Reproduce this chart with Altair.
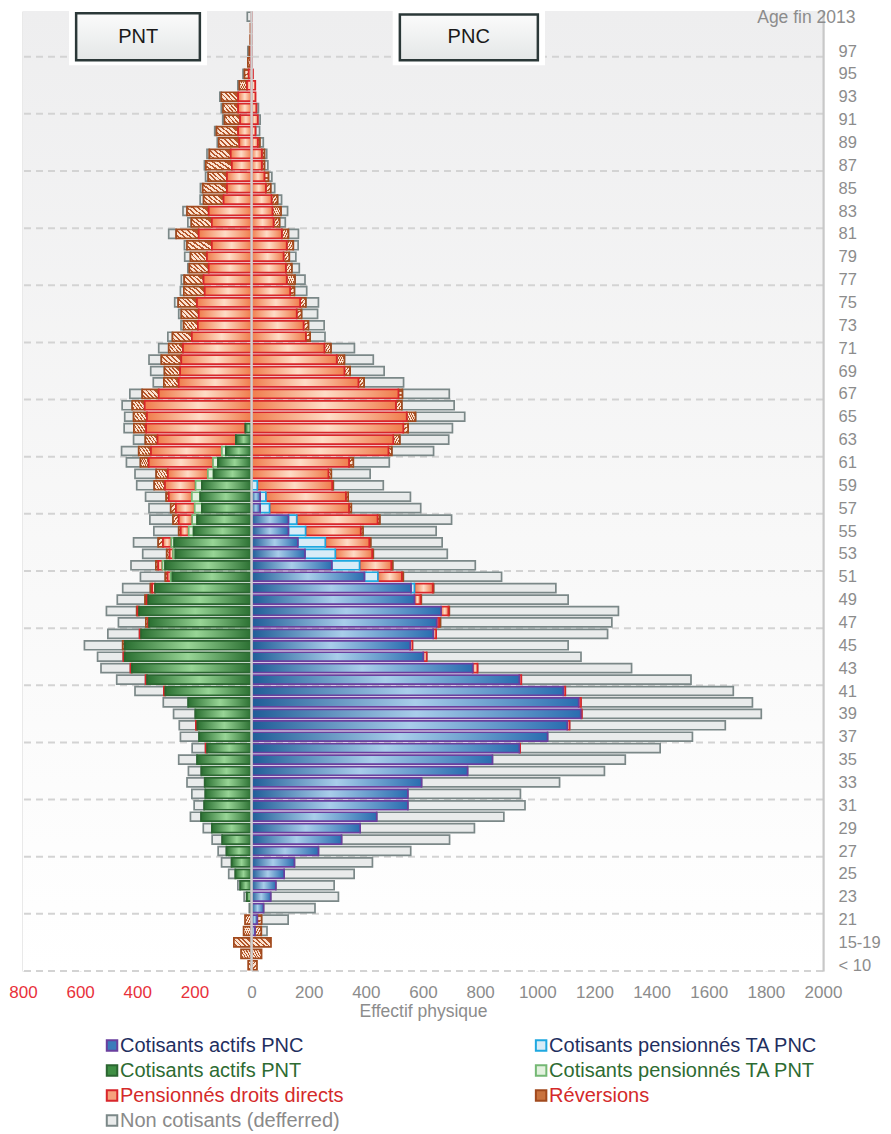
import altair as alt
import pandas as pd

FONT = "Liberation Sans, Arial, sans-serif"

# Row labels, from the oldest (top) to the youngest (bottom)
ages = ["100", "99", "98", "97", "96", "95", "94", "93", "92", "91",
        "90", "89", "88", "87", "86", "85", "84", "83", "82", "81",
        "80", "79", "78", "77", "76", "75", "74", "73", "72", "71",
        "70", "69", "68", "67", "66", "65", "64", "63", "62", "61",
        "60", "59", "58", "57", "56", "55", "54", "53", "52", "51",
        "50", "49", "48", "47", "46", "45", "44", "43", "42", "41",
        "40", "39", "38", "37", "36", "35", "34", "33", "32", "31",
        "30", "29", "28", "27", "26", "25", "24", "23", "22", "21",
        "20", "15-19", "10-14", "< 10"]

# ---- PNT side (left), values top -> bottom ----
cot_actifs_pnt = [0, 0, 0, 0, 0, 0, 0, 0, 0, 0,
                  0, 0, 0, 0, 0, 0, 0, 0, 0, 0,
                  0, 0, 0, 0, 0, 0, 0, 0, 0, 0,
                  0, 0, 0, 0, 0, 0, 22, 55, 90, 118,
                  133, 174, 180, 174, 191, 203, 271, 267, 303, 277,
                  338, 362, 394, 359, 387, 444, 444, 419, 366, 302,
                  222, 197, 190, 184, 156, 191, 176, 164, 162, 166,
                  177, 139, 103, 88, 70, 57, 40, 17, 3, 0,
                  0, 0, 0, 0]
cot_ta_pnt = [0, 0, 0, 0, 0, 0, 0, 0, 0, 0,
              0, 0, 0, 0, 0, 0, 0, 0, 0, 0,
              0, 0, 0, 0, 0, 0, 0, 0, 0, 0,
              0, 0, 0, 0, 0, 0, 0, 0, 14, 17,
              20, 22, 29, 25, 17, 17, 10, 8, 9, 6,
              0, 0, 0, 0, 0, 0, 0, 0, 0, 0,
              0, 0, 0, 0, 0, 0, 0, 0, 0, 0,
              0, 0, 0, 0, 0, 0, 0, 0, 0, 0,
              0, 0, 0, 0]
pens_pnt = [0, 0, 0, 2, 3, 10, 16, 47, 47, 40,
            47, 43, 73, 69, 86, 86, 98, 150, 139, 185,
            139, 156, 150, 168, 164, 191, 185, 188, 209, 240,
            246, 250, 255, 325, 374, 366, 347, 274, 248, 225,
            140, 107, 81, 66, 47, 28, 29, 12, 15, 11,
            10, 5, 5, 3, 5, 0, 5, 5, 5, 5,
            0, 0, 5, 0, 5, 0, 0, 0, 0, 0,
            0, 0, 0, 0, 0, 0, 0, 0, 0, 0,
            0, 0, 0, 0]
rev_pnt = [0, 4, 5, 6, 10, 15, 27, 59, 53, 55,
           76, 72, 75, 91, 66, 85, 70, 76, 72, 79,
           87, 58, 68, 68, 73, 66, 61, 50, 68, 50,
           70, 55, 52, 58, 44, 47, 43, 43, 43, 29,
           41, 38, 9, 18, 20, 7, 17, 10, 8, 8,
           6, 6, 3, 8, 0, 7, 0, 0, 0, 0,
           0, 0, 0, 0, 0, 0, 0, 0, 0, 0,
           0, 0, 0, 0, 0, 0, 0, 0, 0, 23,
           28, 62, 37, 12]
noncot_pnt = [15, 0, 0, 5, 0, 5, 5, 5, 6, 6,
              6, 5, 8, 5, 9, 8, 12, 14, 12, 26,
              9, 20, 5, 10, 12, 12, 9, 9, 16, 35,
              43, 48, 37, 43, 35, 31, 34, 41, 60, 49,
              74, 61, 72, 76, 81, 87, 86, 84, 87, 87,
              97, 97, 106, 96, 111, 134, 90, 103, 101, 101,
              87, 76, 58, 65, 47, 64, 45, 62, 47, 35,
              37, 30, 35, 29, 35, 23, 8, 9, 5, 0,
              0, 0, 0, 0]

# ---- PNC side (right), values top -> bottom ----
cot_actifs_pnc = [0, 0, 0, 0, 0, 0, 0, 0, 0, 0,
                  0, 0, 0, 0, 0, 0, 0, 0, 0, 0,
                  0, 0, 0, 0, 0, 0, 0, 0, 0, 0,
                  0, 0, 0, 0, 0, 0, 0, 0, 0, 0,
                  0, 0, 30, 30, 129, 129, 162, 187, 281, 395,
                  558, 570, 663, 648, 636, 555, 601, 774, 937, 1091,
                  1145, 1152, 1105, 1036, 937, 843, 756, 595, 547, 547,
                  438, 380, 315, 234, 150, 114, 85, 67, 42, 20,
                  12, 0, 0, 0]
cot_ta_pnc = [0, 0, 0, 0, 0, 0, 0, 0, 0, 0,
              0, 0, 0, 0, 0, 0, 0, 0, 0, 0,
              0, 0, 0, 0, 0, 0, 0, 0, 0, 0,
              0, 0, 0, 0, 0, 0, 0, 0, 0, 0,
              0, 20, 20, 33, 29, 60, 96, 106, 97, 47,
              12, 0, 0, 0, 0, 0, 0, 0, 0, 0,
              0, 0, 0, 0, 0, 0, 0, 0, 0, 0,
              0, 0, 0, 0, 0, 0, 0, 0, 0, 0,
              0, 0, 0, 0]
pens_pnc = [2, 2, 2, 2, 2, 5, 13, 14, 17, 22,
            14, 22, 36, 36, 45, 50, 70, 73, 77, 106,
            123, 112, 120, 123, 135, 170, 158, 182, 190, 255,
            298, 325, 374, 514, 505, 543, 531, 496, 479, 341,
            269, 262, 280, 278, 283, 193, 154, 129, 111, 84,
            64, 21, 26, 8, 10, 8, 12, 17, 7, 7,
            8, 4, 8, 0, 3, 0, 0, 0, 0, 0,
            0, 0, 0, 0, 0, 0, 0, 0, 0, 0,
            0, 0, 0, 0]
rev_pnc = [0, 0, 0, 0, 0, 0, 0, 0, 0, 0,
           0, 7, 9, 9, 14, 17, 21, 30, 21, 23,
           23, 20, 21, 29, 15, 20, 17, 17, 15, 23,
           27, 20, 20, 14, 21, 31, 17, 23, 12, 15,
           10, 4, 8, 8, 8, 8, 5, 4, 5, 5,
           3, 3, 3, 5, 0, 0, 0, 0, 0, 0,
           0, 0, 0, 0, 0, 0, 0, 0, 0, 0,
           0, 0, 0, 0, 0, 0, 0, 0, 0, 15,
           22, 68, 35, 19]
noncot_pnc = [0, 0, 0, 0, 0, 0, 0, 0, 7, 8,
              14, 12, 8, 12, 12, 14, 14, 23, 20, 35,
              17, 23, 26, 35, 43, 44, 56, 55, 52, 82,
              101, 119, 138, 164, 183, 172, 155, 171, 146, 126,
              136, 175, 218, 243, 251, 256, 250, 259, 289, 344,
              428, 514, 592, 600, 600, 545, 540, 539, 594, 588,
              600, 628, 545, 507, 490, 465, 479, 483, 394, 410,
              445, 400, 378, 323, 273, 245, 204, 237, 180, 93,
              20, 0, 0, 0]

legend_names = ["Cotisants actifs PNC", "Cotisants pensionnés TA PNC",
                "Cotisants actifs PNT", "Cotisants pensionnés TA PNT",
                "Pensionnés droits directs", "Réversions",
                "Non cotisants (defferred)"]
x_tick_values = [-800, -600, -400, -200, 0, 200, 400, 600, 800,
                 1000, 1200, 1400, 1600, 1800, 2000]

# annotation boxes "PNT" / "PNC" (data coordinates)
box_labels = ["PNT", "PNC"]
box_x_from = [-614, 519]
box_x_to = [-181, 1002]
box_y_from = [79.2, 79.2]
box_y_to = [83.3, 83.2]
box_label_x = [-397, 760]
box_label_y = [81.2, 81.2]

n = len(ages)
for arr in [cot_actifs_pnt, cot_ta_pnt, pens_pnt, rev_pnt, noncot_pnt,
            cot_actifs_pnc, cot_ta_pnc, pens_pnc, rev_pnc, noncot_pnc]:
    assert len(arr) == n
ages_bottom_up = ages[::-1]
row_idx = [n - 1 - i for i in range(n)]

left_groups = [("Cotisants actifs PNT", cot_actifs_pnt),
               ("Cotisants pensionnés TA PNT", cot_ta_pnt),
               ("Pensionnés droits directs", pens_pnt),
               ("Réversions", rev_pnt),
               ("Non cotisants (defferred)", noncot_pnt)]
right_groups = [("Cotisants actifs PNC", cot_actifs_pnc),
                ("Cotisants pensionnés TA PNC", cot_ta_pnc),
                ("Pensionnés droits directs", pens_pnc),
                ("Réversions", rev_pnc),
                ("Non cotisants (defferred)", noncot_pnc)]

HALF = 0.39
recs = []
for groups, sign in [(left_groups, -1), (right_groups, 1)]:
    cum = [0] * n
    for name, vals in groups:
        for i in range(n):
            v = vals[i]
            if v > 0:
                recs.append(dict(series=name, x0=sign * cum[i], x1=sign * (cum[i] + v),
                                 y0=row_idx[i] - HALF, y1=row_idx[i] + HALF))
            cum[i] += v
bars = pd.DataFrame(recs)


def hgrad(c_edge, c_mid, c_edge2=None):
    return {"gradient": "linear", "x1": 0, "y1": 0, "x2": 1, "y2": 0,
            "stops": [{"offset": 0, "color": c_edge},
                      {"offset": 0.5, "color": c_mid},
                      {"offset": 1, "color": c_edge2 or c_edge}]}


def hatch(c1, c2, cycles=5):
    stops = []
    for k in range(cycles):
        a = k / cycles
        b = (k + 0.6) / cycles
        c = (k + 1) / cycles
        stops += [{"offset": a, "color": c1}, {"offset": b, "color": c1},
                  {"offset": b, "color": c2}, {"offset": c, "color": c2}]
    return {"gradient": "linear", "x1": 0, "y1": 1, "x2": 1, "y2": 0.5, "stops": stops}


styles = {
    "Cotisants actifs PNC": (hgrad("#1f5c97", "#a9cdea", "#2a6db0"), "#6a3f9e"),
    "Cotisants pensionnés TA PNC": ("#d8ecf7", "#1fa8e0"),
    "Cotisants actifs PNT": (hgrad("#2a6f31", "#98d596"), "#2b6631"),
    "Cotisants pensionnés TA PNT": ("#e3f2df", "#74b874"),
    "Pensionnés droits directs": (hgrad("#f07c4c", "#fedcc6"), "#d8262b"),
    "Réversions": (hatch("#fbe2cf", "#b4562a"), "#a14a1e"),
    "Non cotisants (defferred)": ("#e9ebeb", "#7b8888"),
}

xs = alt.Scale(domain=[-800, 2000], nice=False, zero=False)
ys = alt.Scale(domain=[-0.5, n - 0.5], nice=False, zero=False)
label_arr = "[" + ",".join("'" + a + "'" for a in ages_bottom_up) + "]"
label_idx = list(range(0, n - 3, 2))

x_axis = alt.Axis(values=x_tick_values, labelExpr="abs(datum.value)", grid=True,
                  gridColor="#d3d3d3", gridWidth=2, domain=False, ticks=False,
                  labelFlush=False, labelOverlap=False,
                  labelColor={"condition": {"test": "datum.value < 0", "value": "#e8313b"},
                              "value": "#8c8c8c"},
                  labelFontSize=17, labelPadding=13, labelFont=FONT,
                  title="Effectif physique", titleFont=FONT, titleFontSize=17.5,
                  titleFontWeight="normal", titleColor="#8c8c8c", titlePadding=2)
y_axis = alt.Axis(orient="right", values=label_idx, labelExpr=label_arr + "[datum.value]",
                  grid=False, ticks=False, domain=True, domainColor="#c8c8c8", domainWidth=2,
                  labelAlign="left", labelPadding=15, labelFontSize=16.5, labelFont=FONT,
                  labelColor="#8c8c8c", labelFlush=False, labelOverlap=False,
                  title="Age fin 2013", titleAngle=0,
                  titleAlign="right", titleBaseline="alphabetic", titleX=32, titleY=11,
                  titleFont=FONT, titleFontSize=17.5, titleFontWeight="normal",
                  titleColor="#8c8c8c", zindex=1)


def X(f):
    return alt.X(f"{f}:Q", scale=xs, axis=x_axis)


def Y(f):
    return alt.Y(f"{f}:Q", scale=ys, axis=y_axis)


# plot-area background (light grey fading to white)
bg_df = pd.DataFrame({"a": [x_tick_values[0]], "b": [x_tick_values[-1]],
                      "c": [-0.5], "d": [n - 0.5]})
bg_fill = {"gradient": "linear", "x1": 0, "y1": 0, "x2": 0, "y2": 1,
           "stops": [{"offset": 0, "color": "#eeeeef"}, {"offset": 0.55, "color": "#f8f8f8"},
                     {"offset": 1, "color": "#ffffff"}]}
bg = alt.Chart(bg_df).mark_rect(fill=bg_fill).encode(x=X("a"), x2="b", y=Y("c"), y2="d")

bounds = pd.DataFrame({"b": [k * 5 - 0.5 for k in range(0, (n - 4) // 5 + 1)]})
grid_rules = alt.Chart(bounds).mark_rule(strokeDash=[7, 5], color="#d3d3d3",
                                         strokeWidth=2).encode(y=Y("b"))

bar_layers = []
for name in ["Non cotisants (defferred)", "Réversions", "Pensionnés droits directs",
             "Cotisants pensionnés TA PNT", "Cotisants pensionnés TA PNC",
             "Cotisants actifs PNT", "Cotisants actifs PNC"]:
    fill, stroke = styles[name]
    sub = bars[bars.series == name]
    bar_layers.append(
        alt.Chart(sub).mark_rect(fill=fill, stroke=stroke, strokeWidth=1.7)
        .encode(x=X("x0"), x2="x1", y=Y("y0"), y2="y1"))

center = alt.Chart(pd.DataFrame({"v": [0]})).mark_rule(color="#d0d0d0", strokeWidth=2.5).encode(x=X("v"))

boxes = pd.DataFrame({"label": box_labels, "bx0": box_x_from, "bx1": box_x_to,
                      "by0": box_y_from, "by1": box_y_to,
                      "lx": box_label_x, "ly": box_label_y})
boxes["wx0"] = boxes["bx0"] - 25
boxes["wx1"] = boxes["bx1"] + 25
boxes["wy0"] = boxes["by0"] - 0.45
boxes["wy1"] = (boxes["by1"] + 0.3).clip(upper=n - 0.5)

white = alt.Chart(boxes).mark_rect(fill="white").encode(
    x=X("wx0"), x2="wx1", y=Y("wy0"), y2="wy1")
box_fill = {"gradient": "linear", "x1": 0, "y1": 0, "x2": 0, "y2": 1,
            "stops": [{"offset": 0, "color": "#fbfbfb"}, {"offset": 1, "color": "#e4e7e7"}]}
box = alt.Chart(boxes).mark_rect(fill=box_fill, stroke="#2b3838", strokeWidth=2.5).encode(
    x=X("bx0"), x2="bx1", y=Y("by0"), y2="by1")
box_text = alt.Chart(boxes).mark_text(font=FONT, fontSize=20, color="#1a1a1a").encode(
    x=X("lx"), y=Y("ly"), text="label:N")

main = alt.layer(bg, grid_rules, *bar_layers, center, white, box, box_text).properties(
    width=800, height=960)

# ---- legend panel ----
leg = pd.DataFrame({"name": legend_names,
                    "col": [i % 2 for i in range(len(legend_names))],
                    "row": [i // 2 for i in range(len(legend_names))]})
leg_fill = ["#3b7bbb", "#d8ecf7", "#3f8f44", "#e3f2df", "#f5a27c", "#c9733f", "#e9ebeb"]
leg_stroke = ["#6a3f9e", "#1fa8e0", "#2b6631", "#74b874", "#d8262b", "#a14a1e", "#7b8888"]
leg_text = ["#1f2f5f", "#1f2f5f", "#2e6b32", "#2e6b32", "#d42a2a", "#d42a2a", "#8a8a8a"]

lxs = alt.Scale(domain=[-0.2075, 1.657], nice=False, zero=False)
lys = alt.Scale(domain=[-0.5, 3.5], nice=False, zero=False, reverse=True)
sq = alt.Chart(leg).mark_square(size=110, strokeWidth=2, opacity=1).encode(
    x=alt.X("col:Q", scale=lxs, axis=None),
    y=alt.Y("row:Q", scale=lys, axis=None),
    fill=alt.Fill("name:N", scale=alt.Scale(domain=legend_names, range=leg_fill), legend=None),
    stroke=alt.Stroke("name:N", scale=alt.Scale(domain=legend_names, range=leg_stroke), legend=None))
tx = alt.Chart(leg).mark_text(align="left", baseline="middle", dx=8, fontSize=20, font=FONT).encode(
    x=alt.X("col:Q", scale=lxs, axis=None),
    y=alt.Y("row:Q", scale=lys, axis=None),
    text="name:N",
    color=alt.Color("name:N", scale=alt.Scale(domain=legend_names, range=leg_text), legend=None))
legend_chart = alt.layer(sq, tx).resolve_scale(color="independent", fill="independent",
                                               stroke="independent").properties(
    width=800, height=100)

chart = alt.vconcat(main, legend_chart, spacing=62, bounds="flush").properties(
    padding={"left": 0, "top": 0, "right": 0, "bottom": 0}, background="white"
).configure_view(strokeWidth=0)

chart.save("out.html", embed_options={"renderer": "svg", "actions": False})
